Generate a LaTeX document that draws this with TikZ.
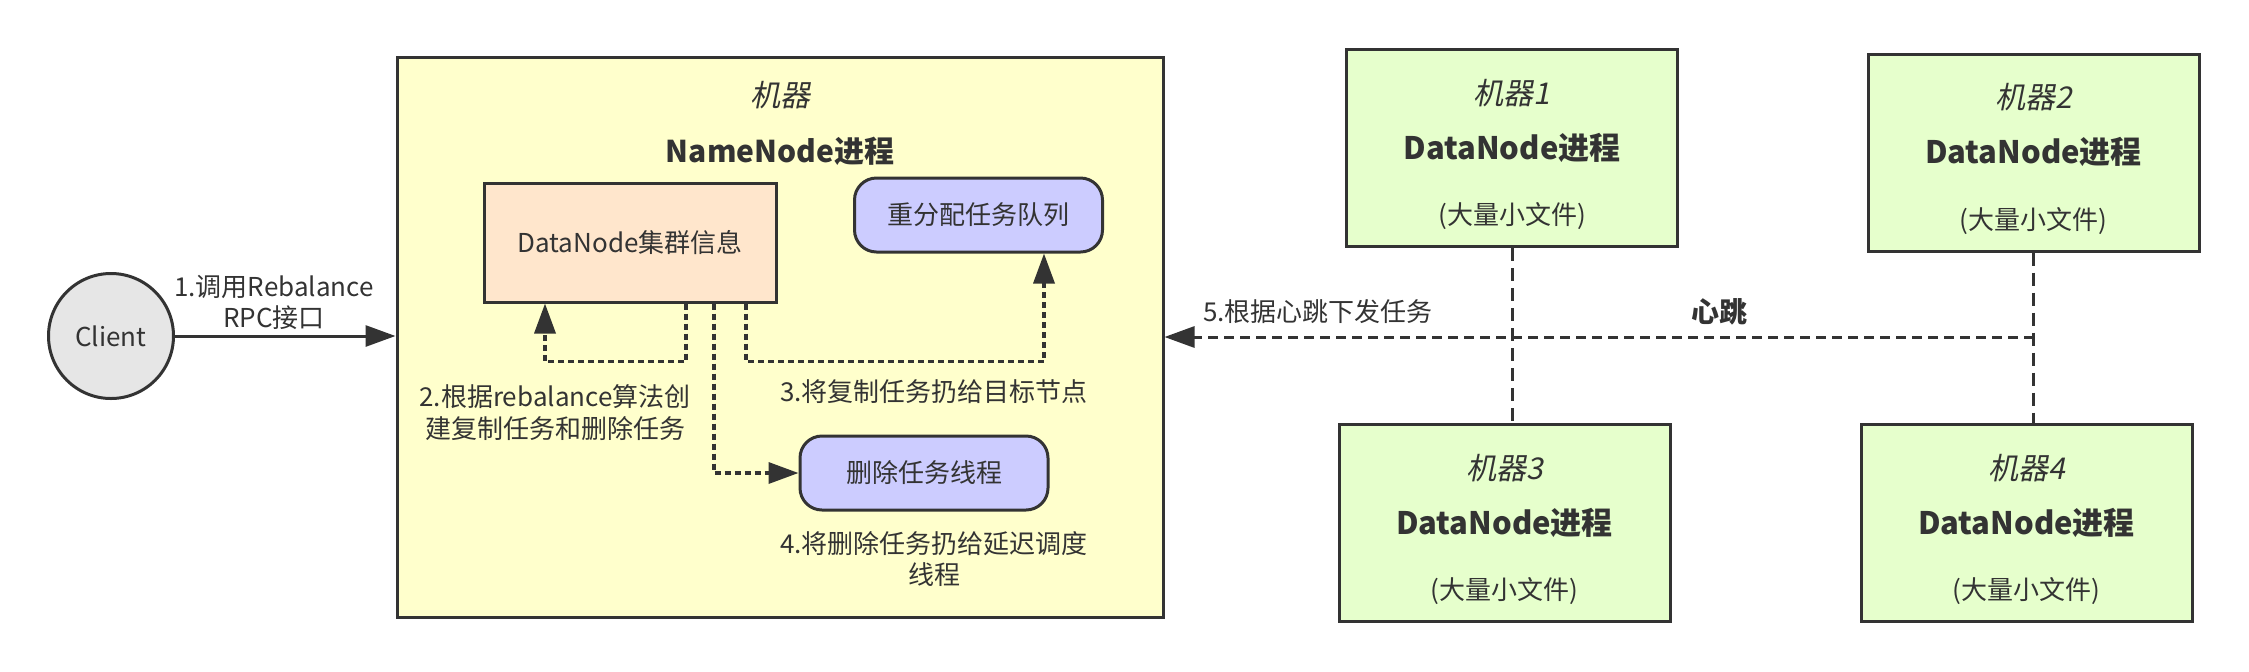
\documentclass[tikz,border=0pt]{standalone}
\usepackage{fontspec}
\setmainfont{Noto Sans CJK SC}
\newfontfamily\itcjk[FakeSlant=0.2]{Noto Sans CJK SC}
\usetikzlibrary{arrows.meta}
\definecolor{ink}{HTML}{333333}
\definecolor{host}{HTML}{FFFFCC}
\definecolor{peach}{HTML}{FFE6CC}
\definecolor{lilac}{HTML}{CCCCFF}
\definecolor{leaf}{HTML}{E6FFCC}
\definecolor{cli}{HTML}{E6E6E6}
\newcommand{\dnp}{{\fontsize{15.5}{17}\selectfont\bfseries DataNode进程}}
\newcommand{\host}[1]{{\fontsize{15}{17}\selectfont\itcjk #1}}
\tikzset{ base/.style = { draw = ink
                        , line width   = 1.5pt
                        , text         = ink
                        , inner sep    = 0pt
                        },
          host/.style = { base
                        , rectangle
                        , fill         = host
                        , minimum width  = 383pt
                        , minimum height = 280pt
                        },
          info/.style = { base
                        , rectangle
                        , fill         = peach
                        , minimum width  = 146pt
                        , minimum height = 59.5pt
                        },
          pill/.style = { base
                        , rectangle
                        , rounded corners = 11pt
                        , fill         = lilac
                        , minimum width  = 124pt
                        , minimum height = 37pt
                        },
            dn/.style = { base
                        , rectangle
                        , fill         = leaf
                        , align        = center
                        , minimum width  = 165.5pt
                        , minimum height = 98.5pt
                        },
           cli/.style = { base
                        , circle
                        , fill         = cli
                        , minimum size = 62.5pt
                        },
           lab/.style = { text = ink
                        , align = center
                        },
           arr/.style = { draw = ink
                        , line width = 1.5pt
                        , -{Triangle[length=15pt,width=10.5pt]}
                        },
        dotarr/.style = { arr
                        , line width = 1.75pt
                        , dash pattern = on 3pt off 2pt
                        },
            hb/.style = { arr
                        , dash pattern = on 5pt off 3pt
                        },
          link/.style = { draw = ink
                        , line width = 1.5pt
                        , dash pattern = on 6.5pt off 3.5pt
                        }
        }

\begin{document}
\begin{tikzpicture}[x=0.5pt, y=-0.5pt, font=\fontsize{13}{15.6}\selectfont]
    \useasboundingbox (0,0) rectangle (2249,671);

    \node[cli]  (client) at (111,336) {Client};
    \node[host] (main)   at (780,337) {};
    \node[lab]  (title)  at (780,95)  {\host{机器}};
    \node[lab]  (nn)     at (780,151) {\fontsize{15}{17}\selectfont\bfseries NameNode进程};
    \node[info] (cluster) at (630,242.5) {DataNode集群信息};
    \node[pill] (queue)  at (978.5,215) {重分配任务队列};
    \node[pill] (del)    at (924,473)   {删除任务线程};

    \node[dn] (m1) at (1512,148)   {\rule{0pt}{19pt}\host{机器1}\\[12pt]\dnp\\[17pt](大量小文件)};
    \node[dn] (m2) at (2033.5,152.5) {\rule{0pt}{19pt}\host{机器2}\\[12pt]\dnp\\[17pt](大量小文件)};
    \node[dn] (m3) at (1504.5,523) {\rule{0pt}{19pt}\host{机器3}\\[12pt]\dnp\\[17pt](大量小文件)};
    \node[dn] (m4) at (2026.5,523) {\rule{0pt}{19pt}\host{机器4}\\[12pt]\dnp\\[17pt](大量小文件)};

    \draw[arr] (client) -- (client -| main.west);
    \node[lab] (step1) at (274,302.5) {1.调用Rebalance\\RPC接口};

    \draw[dotarr] ([xshift=28pt]cluster.south) -- ++(0,58) -| ([xshift=-42.5pt]cluster.south);
    \draw[dotarr] ([xshift=58pt]cluster.south) -- ++(0,58) -| ([xshift=32.75pt]queue.south);
    \draw[dotarr] ([xshift=42pt]cluster.south) |- (del.west);
    \node[lab] (step2) at (555,412.5) {2.根据rebalance算法创\\建复制任务和删除任务};
    \node[lab] (step3) at (934,392)   {3.将复制任务扔给目标节点};
    \node[lab] (step4) at (934,559)   {4.将删除任务扔给延迟调度\\线程};

    \draw[link] (m1.south) -- (m1.south |- m3.north);
    \draw[link] (m2.south) -- (m2.south |- m4.north);
    \draw[hb] (m2.south |- main.east) -- (main.east);
    \node[lab] (step5) at (1318,312) {5.根据心跳下发任务};
    \node[lab, font=\fontsize{14}{16}\selectfont\bfseries] (beat) at (1719,312) {心跳};
\end{tikzpicture}
\end{document}
